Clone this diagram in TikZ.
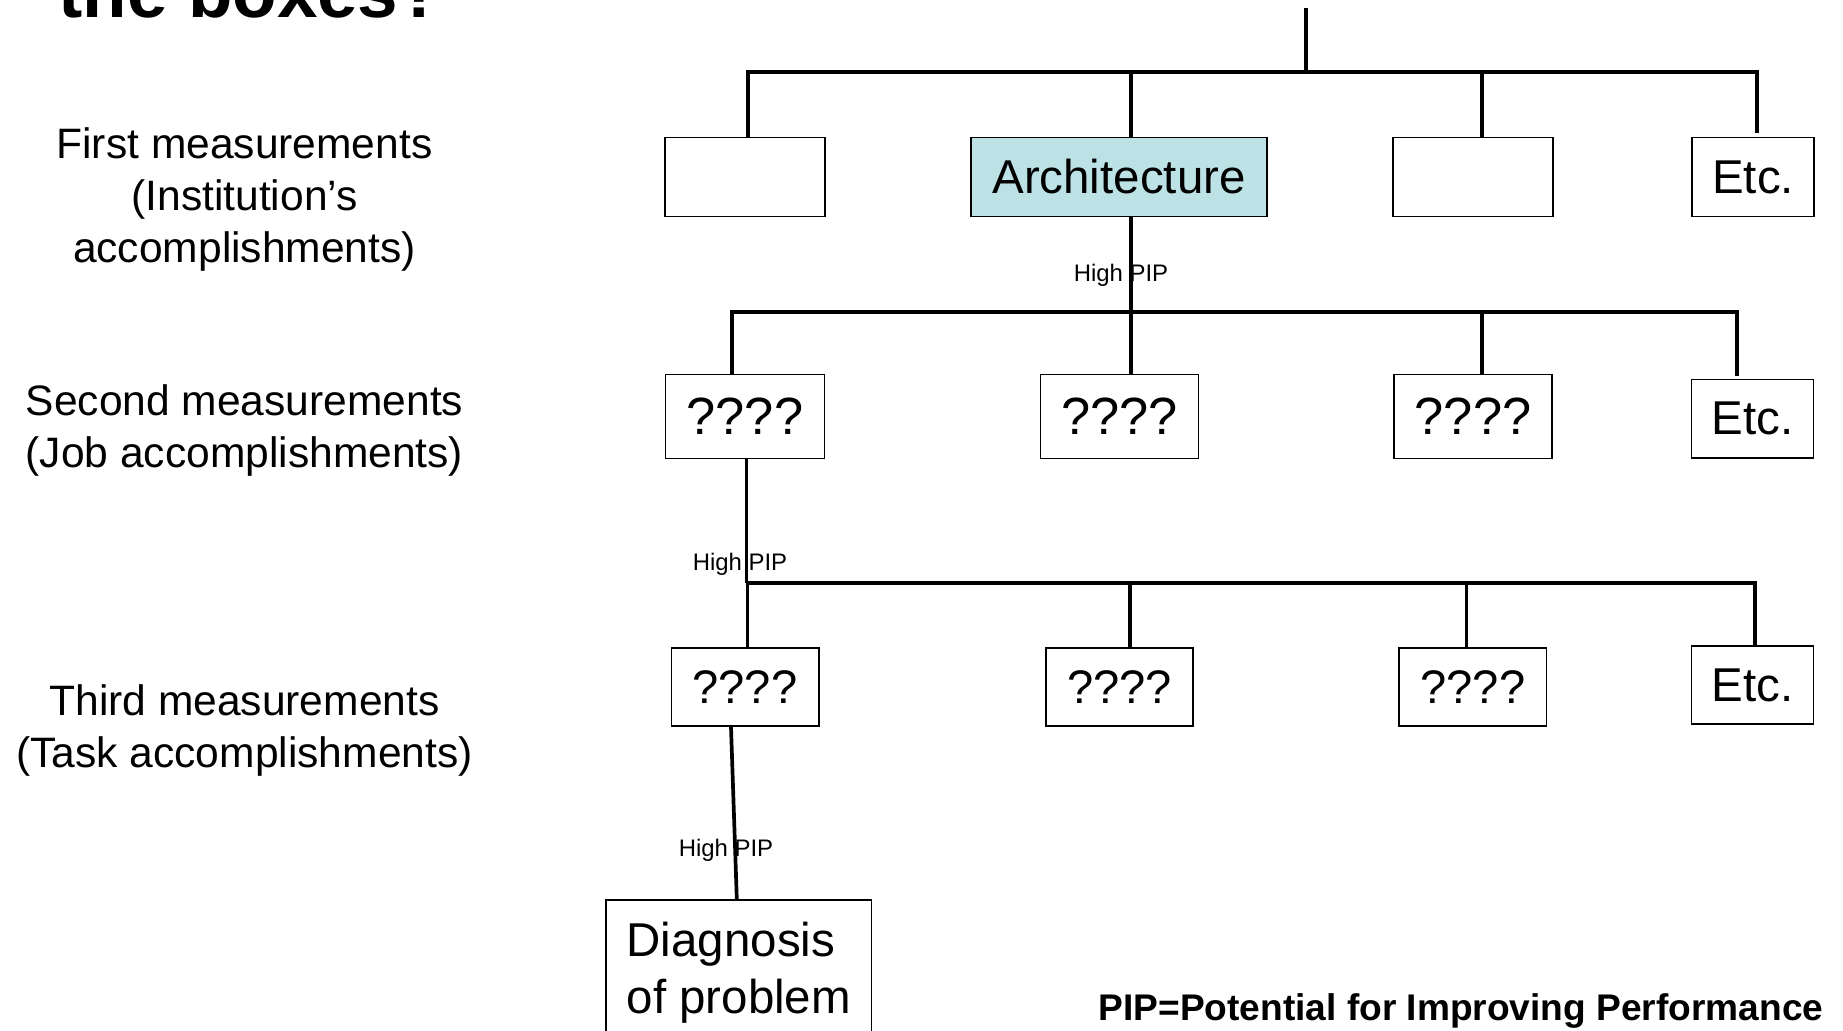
\documentclass[tikz,border=0pt]{standalone}
\usepackage{fontspec}
\setmainfont{Liberation Sans}
\usepackage{tikz}

\definecolor{archblue}{RGB}{188,226,230}

\begin{document}
\begin{tikzpicture}[x=0.01cm, y=-0.01cm,
        box/.style={draw, fill=white, line width=0.4pt, inner sep=0pt, font=\fontsize{13.5}{16}\selectfont},
        link/.style={line width=1.05pt},
        pip/.style={inner sep=0pt, font=\fontsize{6.8}{8}\selectfont},
        level/.style={align=center, inner sep=0pt, font=\fontsize{12.1}{14.7}\selectfont}]
        \useasboundingbox (0,0) rectangle (1843,1031);

        \node[anchor=base west, inner sep=0pt, font=\fontsize{20.7}{24}\selectfont\bfseries] (title) at (58,18) {the boxes?};

        \node[level] (lev1) at (244.5,199.5) {First measurements\\(Institution's\\accomplishments)};
        \node[level] (lev2) at (244.5,430.5) {Second measurements\\(Job accomplishments)};
        \node[level] (lev3) at (244.5,730.5) {Third measurements\\(Task accomplishments)};

        \node[box, minimum width=1.6cm, minimum height=0.79cm] (b11) at (745,177) {};
        \node[box, fill=archblue, minimum width=2.96cm, minimum height=0.79cm] (arch) at (1119,177) {Architecture};
        \node[box, minimum width=1.6cm, minimum height=0.79cm] (b13) at (1473,177) {};
        \node[box, minimum width=1.22cm, minimum height=0.79cm] (etc1) at (1753,177) {Etc.};

        \node[box, minimum width=1.585cm, minimum height=0.84cm, font=\fontsize{14.9}{18}\selectfont] (q21) at (745,416.5) {????};
        \node[box, minimum width=1.58cm, minimum height=0.84cm, font=\fontsize{14.9}{18}\selectfont] (q22) at (1119.6,416.5) {????};
        \node[box, minimum width=1.58cm, minimum height=0.84cm, font=\fontsize{14.9}{18}\selectfont] (q23) at (1473,416.5) {????};
        \node[box, minimum width=1.22cm, minimum height=0.78cm] (etc2) at (1752.6,418.8) {Etc.};

        \node[box, minimum width=1.475cm, minimum height=0.78cm, font=\fontsize{13.4}{16}\selectfont] (q31) at (745,687) {????};
        \node[box, minimum width=1.47cm, minimum height=0.78cm, font=\fontsize{13.4}{16}\selectfont] (q32) at (1119.6,687) {????};
        \node[box, minimum width=1.475cm, minimum height=0.78cm, font=\fontsize{13.4}{16}\selectfont] (q33) at (1472.8,687) {????};
        \node[box, minimum width=1.22cm, minimum height=0.78cm] (etc3) at (1752.6,685) {Etc.};

        \node[box, align=left, minimum width=2.656cm, minimum height=1.46cm, font=\fontsize{13.5}{16.1}\selectfont] (diag) at (738.8,973) {Diagnosis\\of problem};

        \coordinate (root) at (1306,8);
        \coordinate (bus1) at (0,72);
        \coordinate (bus2) at (0,312);
        \coordinate (bus3) at (0,583);

        \draw[link] (root) -- (root |- bus1);
        \draw[link] ([xshift=0.03cm]b11.north) |- ([xshift=0.04cm]etc1.north |- bus1) -- ([xshift=0.04cm,yshift=0.04cm]etc1.north);
        \draw[link] ([xshift=0.12cm]arch.north) -- ([xshift=0.12cm]arch.north |- bus1);
        \draw[link] ([xshift=0.09cm]b13.north) -- ([xshift=0.09cm]b13.north |- bus1);

        \draw[link] ([xshift=0.12cm]arch.south) -- ([xshift=0.12cm]arch.south |- q22.north);
        \draw[link] ([xshift=-0.13cm]q21.north) |- ([xshift=-0.156cm]etc2.north |- bus2) -- ([xshift=-0.156cm,yshift=0.027cm]etc2.north);
        \draw[link] ([xshift=0.09cm]q23.north) -- ([xshift=0.09cm]q23.north |- bus2);

        \draw[link] ([xshift=0.016cm]q21.south) -- ([xshift=0.016cm]q21.south |- bus3);
        \draw[link] ([xshift=0.025cm]q31.north) |- ([xshift=0.024cm]etc3.north |- bus3) -- ([xshift=0.024cm]etc3.north);
        \draw[link] ([xshift=0.104cm]q32.north) -- ([xshift=0.104cm]q32.north |- bus3);
        \draw[link] ([xshift=-0.063cm]q33.north) -- ([xshift=-0.063cm]q33.north |- bus3);

        \draw[link] ([xshift=-0.14cm]q31.south) -- ([xshift=-0.02cm]diag.north);

        \node[pip] (pip1) at (1121,275.5) {High PIP};
        \node[pip] (pip2) at (740,564) {High PIP};
        \node[pip] (pip3) at (726,850.5) {High PIP};

        \node[anchor=base east, inner sep=0pt, font=\fontsize{10.55}{12}\selectfont\bfseries] (note) at (1824,1020) {PIP=Potential for Improving Performance};
\end{tikzpicture}
\end{document}
